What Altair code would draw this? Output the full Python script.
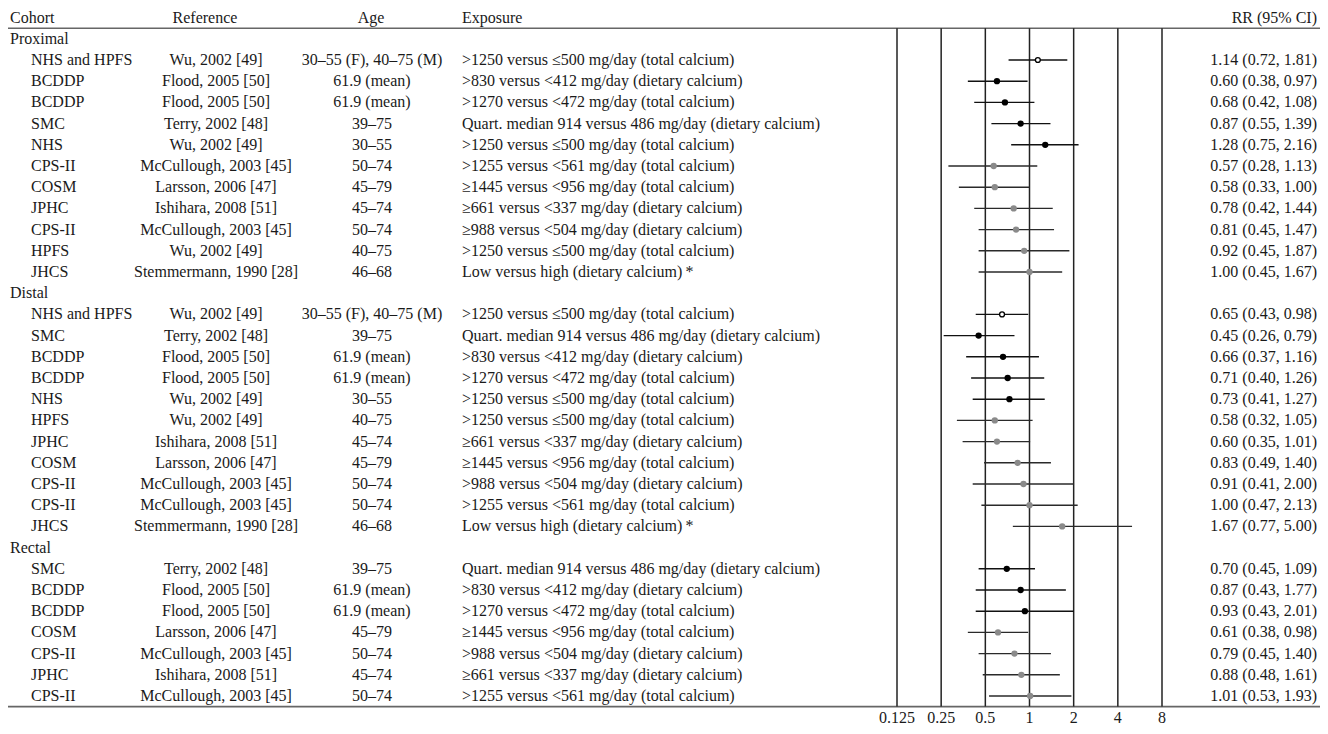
import altair as alt
import pandas as pd

# ---------------- data ----------------
section_names = ["Proximal", "Distal", "Rectal"]

prox_cohort = ["NHS and HPFS", "BCDDP", "BCDDP", "SMC", "NHS", "CPS-II", "COSM", "JPHC", "CPS-II", "HPFS", "JHCS"]
prox_ref = ["Wu, 2002 [49]", "Flood, 2005 [50]", "Flood, 2005 [50]", "Terry, 2002 [48]", "Wu, 2002 [49]",
            "McCullough, 2003 [45]", "Larsson, 2006 [47]", "Ishihara, 2008 [51]", "McCullough, 2003 [45]",
            "Wu, 2002 [49]", "Stemmermann, 1990 [28]"]
prox_age = ["30–55 (F), 40–75 (M)", "61.9 (mean)", "61.9 (mean)", "39–75", "30–55", "50–74", "45–79",
            "45–74", "50–74", "40–75", "46–68"]
prox_exp = [">1250 versus ≤500 mg/day (total calcium)",
            ">830 versus <412 mg/day (dietary calcium)",
            ">1270 versus <472 mg/day (total calcium)",
            "Quart. median 914 versus 486 mg/day (dietary calcium)",
            ">1250 versus ≤500 mg/day (total calcium)",
            ">1255 versus <561 mg/day (total calcium)",
            "≥1445 versus <956 mg/day (total calcium)",
            "≥661 versus <337 mg/day (dietary calcium)",
            "≥988 versus <504 mg/day (dietary calcium)",
            ">1250 versus ≤500 mg/day (total calcium)",
            "Low versus high (dietary calcium)"]
prox_rr = [1.14, 0.60, 0.68, 0.87, 1.28, 0.57, 0.58, 0.78, 0.81, 0.92, 1.00]
prox_lo = [0.72, 0.38, 0.42, 0.55, 0.75, 0.28, 0.33, 0.42, 0.45, 0.45, 0.45]
prox_hi = [1.81, 0.97, 1.08, 1.39, 2.16, 1.13, 1.00, 1.44, 1.47, 1.87, 1.67]
prox_kind = ["open", "black", "black", "black", "black", "gray", "gray", "gray", "gray", "gray", "gray"]
prox_star = [0, 0, 0, 0, 0, 0, 0, 0, 0, 0, 1]

dist_cohort = ["NHS and HPFS", "SMC", "BCDDP", "BCDDP", "NHS", "HPFS", "JPHC", "COSM", "CPS-II", "CPS-II", "JHCS"]
dist_ref = ["Wu, 2002 [49]", "Terry, 2002 [48]", "Flood, 2005 [50]", "Flood, 2005 [50]", "Wu, 2002 [49]",
            "Wu, 2002 [49]", "Ishihara, 2008 [51]", "Larsson, 2006 [47]", "McCullough, 2003 [45]",
            "McCullough, 2003 [45]", "Stemmermann, 1990 [28]"]
dist_age = ["30–55 (F), 40–75 (M)", "39–75", "61.9 (mean)", "61.9 (mean)", "30–55", "40–75", "45–74",
            "45–79", "50–74", "50–74", "46–68"]
dist_exp = [">1250 versus ≤500 mg/day (total calcium)",
            "Quart. median 914 versus 486 mg/day (dietary calcium)",
            ">830 versus <412 mg/day (dietary calcium)",
            ">1270 versus <472 mg/day (total calcium)",
            ">1250 versus ≤500 mg/day (total calcium)",
            ">1250 versus ≤500 mg/day (total calcium)",
            "≥661 versus <337 mg/day (dietary calcium)",
            "≥1445 versus <956 mg/day (total calcium)",
            ">988 versus <504 mg/day (dietary calcium)",
            ">1255 versus <561 mg/day (total calcium)",
            "Low versus high (dietary calcium)"]
dist_rr = [0.65, 0.45, 0.66, 0.71, 0.73, 0.58, 0.60, 0.83, 0.91, 1.00, 1.67]
dist_lo = [0.43, 0.26, 0.37, 0.40, 0.41, 0.32, 0.35, 0.49, 0.41, 0.47, 0.77]
dist_hi = [0.98, 0.79, 1.16, 1.26, 1.27, 1.05, 1.01, 1.40, 2.00, 2.13, 5.00]
dist_kind = ["open", "black", "black", "black", "black", "gray", "gray", "gray", "gray", "gray", "gray"]
dist_star = [0, 0, 0, 0, 0, 0, 0, 0, 0, 0, 1]

rect_cohort = ["SMC", "BCDDP", "BCDDP", "COSM", "CPS-II", "JPHC", "CPS-II"]
rect_ref = ["Terry, 2002 [48]", "Flood, 2005 [50]", "Flood, 2005 [50]", "Larsson, 2006 [47]",
            "McCullough, 2003 [45]", "Ishihara, 2008 [51]", "McCullough, 2003 [45]"]
rect_age = ["39–75", "61.9 (mean)", "61.9 (mean)", "45–79", "50–74", "45–74", "50–74"]
rect_exp = ["Quart. median 914 versus 486 mg/day (dietary calcium)",
            ">830 versus <412 mg/day (dietary calcium)",
            ">1270 versus <472 mg/day (total calcium)",
            "≥1445 versus <956 mg/day (total calcium)",
            ">988 versus <504 mg/day (dietary calcium)",
            "≥661 versus <337 mg/day (dietary calcium)",
            ">1255 versus <561 mg/day (total calcium)"]
rect_rr = [0.70, 0.87, 0.93, 0.61, 0.79, 0.88, 1.01]
rect_lo = [0.45, 0.43, 0.43, 0.38, 0.45, 0.48, 0.53]
rect_hi = [1.09, 1.77, 2.01, 0.98, 1.40, 1.61, 1.93]
rect_kind = ["black", "black", "black", "gray", "gray", "gray", "gray"]
rect_star = [0, 0, 0, 0, 0, 0, 0]

tick_values = [0.125, 0.25, 0.5, 1, 2, 4, 8]
tick_labels = ["0.125", "0.25", "0.5", "1", "2", "4", "8"]

headers = ["Cohort", "Reference", "Age", "Exposure", "RR (95% CI)"]

# ---------------- table build ----------------
groups = [
    (prox_cohort, prox_ref, prox_age, prox_exp, prox_rr, prox_lo, prox_hi, prox_kind, prox_star),
    (dist_cohort, dist_ref, dist_age, dist_exp, dist_rr, dist_lo, dist_hi, dist_kind, dist_star),
    (rect_cohort, rect_ref, rect_age, rect_exp, rect_rr, rect_lo, rect_hi, rect_kind, rect_star),
]
rows = []
sec_rows = []
r = 1
for name, g in zip(section_names, groups):
    sec_rows.append({"row": r, "label": name})
    r += 1
    for c, rf, a, e, rr, lo, hi, k, s in zip(*g):
        rows.append({"row": r, "cohort": c, "ref": rf, "age": a,
                     "exp": e + ("\u2009*" if s else ""),
                     "rrtxt": f"{rr:.2f} ({lo:.2f}, {hi:.2f})",
                     "rr": rr, "lo": lo, "hi": hi, "kind": k})
        r += 1
last_row = r - 1
df = pd.DataFrame(rows)
sec_df = pd.DataFrame(sec_rows)

FONT = "Liberation Serif"
FS = 16
ROW_TOP = 9.6
ROW_STEP = 21.2
TXT = "#1a1a1a"

yscale = alt.Scale(domain=[0, last_row], range=[ROW_TOP, ROW_TOP + ROW_STEP * last_row], zero=False, nice=False)
xscale = alt.Scale(type="log", base=2, domain=[0.125, 8], range=[889, 1154], nice=False)

Y = lambda f: alt.Y(f, type="quantitative", scale=yscale, axis=None)
X = lambda f: alt.X(f, type="quantitative", scale=xscale, axis=None)

base = alt.Chart(df)

def text_col(field, xpos, align):
    return base.mark_text(font=FONT, fontSize=FS, align=align, baseline="middle", color=TXT).encode(
        x=alt.value(xpos), y=Y("row"), text=alt.Text(f"{field}:N"))

t_cohort = text_col("cohort", 23, "left")
t_ref = text_col("ref", 208, "center")
t_age = text_col("age", 364, "center")
t_exp = text_col("exp", 454, "left")
t_rr = text_col("rrtxt", 1309, "right")

t_sec = alt.Chart(sec_df).mark_text(font=FONT, fontSize=FS, align="left", baseline="middle", color=TXT).encode(
    x=alt.value(2), y=Y("row"), text="label:N")

hdr_x = [2, 197, 363, 454, 1309]
hdr_align = ["left", "center", "center", "left", "right"]
hdr_layers = []
for lab, xp, al in zip(headers, hdr_x, hdr_align):
    hdr_layers.append(alt.Chart(pd.DataFrame({"row": [0], "label": [lab]})).mark_text(
        font=FONT, fontSize=FS, align=al, baseline="middle", color=TXT).encode(
        x=alt.value(xp), y=Y("row"), text="label:N"))

hl_df = pd.DataFrame({"row": [-0.5, 0.5, last_row + 0.5]})
hlines = alt.Chart(hl_df).mark_rule(color="#666", strokeWidth=1.6).encode(
    y=Y("row"), x=alt.value(0), x2=alt.value(1320))

vl_df = pd.DataFrame({"v": tick_values, "lab": tick_labels, "y0": [0.5] * 7, "y1": [last_row + 0.5] * 7,
                      "ty": [last_row + 1.05] * 7})
vlines = alt.Chart(vl_df).mark_rule(color="#222", strokeWidth=1.5).encode(
    x=X("v"), y=Y("y0"), y2="y1")
vlabels = alt.Chart(vl_df).mark_text(font=FONT, fontSize=FS, align="center", baseline="middle", color=TXT).encode(
    x=X("v"), y=Y("ty"), text="lab:N")

ci = base.mark_rule(strokeWidth=1.4).encode(
    x=X("lo"), x2="hi", y=Y("row"),
    color=alt.Color("kind:N", scale=alt.Scale(domain=["open", "black", "gray"], range=["#111", "#111", "#2a2a2a"]), legend=None))

pts_fill = alt.Chart(df[df.kind != "open"]).mark_point(filled=True, shape="circle", size=40, opacity=1).encode(
    x=X("rr"), y=Y("row"),
    color=alt.Color("kind:N", scale=alt.Scale(domain=["black", "gray"], range=["#000000", "#8a8a8a"]), legend=None))
pts_open = alt.Chart(df[df.kind == "open"]).mark_point(filled=False, shape="circle", size=24, strokeWidth=1.3,
                                                        color="#000", fill="white", fillOpacity=1, opacity=1).encode(
    x=X("rr"), y=Y("row"))

chart = alt.layer(hlines, vlines, vlabels, ci, pts_fill, pts_open, t_sec, t_cohort, t_ref, t_age, t_exp, t_rr,
                  *hdr_layers).resolve_scale(color="independent").properties(
    width=1312, height=718, padding=0, autosize=alt.AutoSizeParams(type="none")
).configure_view(stroke=None)

chart.save("out.html", embed_options={"renderer": "svg", "actions": False})
